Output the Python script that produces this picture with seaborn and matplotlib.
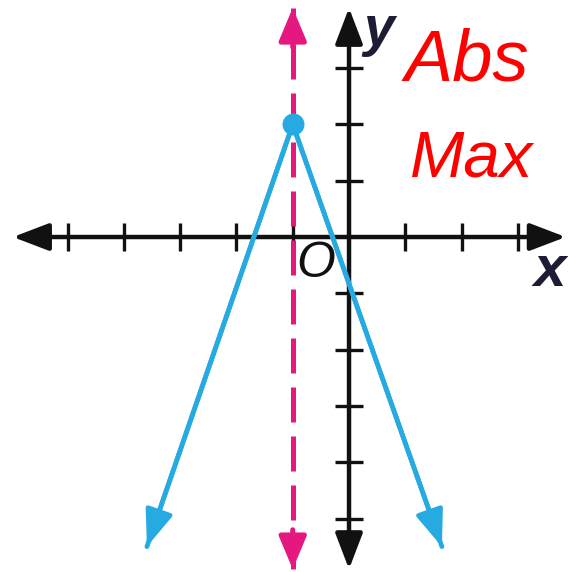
import matplotlib
matplotlib.use("Agg")
import matplotlib.pyplot as plt
import seaborn as sns
import pandas as pd

# Graph of y = a|x - h| + k with its axis of symmetry
vertex_x = [-1.0]
vertex_y = [2.0]
graph_x = [-3.59, -1.0, 1.65]
graph_y = [-5.50, 2.0, -5.50]
sym_x = [-1.0, -1.0]
sym_y = [-5.9, 4.07]

# Coordinate axes extents and tick marks
x_axis_ends = [-5.97, 3.85]
y_axis_ends = [-5.9, 4.07]
x_ticks = [-5, -4, -3, -2, -1, 1, 2, 3]
y_ticks = [-5, -4, -3, -2, -1, 1, 2, 3]

note_lines = ["Abs", "Max"]

BLUE = "#27aae1"
PINK = "#e5187f"
INK = "#111111"

sns.set_theme(style="white")
plt.rcParams["font.family"] = ["Liberation Sans", "DejaVu Sans"]

fig = plt.figure(figsize=(5.68, 5.72), dpi=100)
ax = fig.add_axes([0, 0, 1, 1])
ax.set_xlim(-6.2, 3.89)
ax.set_ylim(-5.95, 4.21)
ax.set_axis_off()

axis_arrow = dict(arrowstyle="<|-|>,head_length=1.1,head_width=0.42",
                  mutation_scale=20, lw=3.2, color=INK,
                  shrinkA=0, shrinkB=0)
ax.annotate("", xy=(x_axis_ends[1], 0), xytext=(x_axis_ends[0], 0),
            arrowprops=axis_arrow, zorder=2)
ax.annotate("", xy=(0, y_axis_ends[1]), xytext=(0, y_axis_ends[0]),
            arrowprops=axis_arrow, zorder=2)

tick_half = 0.25
ax.vlines(x_ticks, -tick_half, tick_half, colors=INK, lw=2.4, zorder=2)
ax.hlines(y_ticks, -tick_half, tick_half, colors=INK, lw=2.4, zorder=2)

# Axis of symmetry: dashed line with solid arrowheads
sym_df = pd.DataFrame({"x": sym_x, "y": sym_y})
sns.lineplot(data=sym_df, x="x", y="y", sort=False, estimator=None,
             color=PINK, lw=3.6, ax=ax, zorder=3,
             dashes=False, linestyle=(0, (7.0, 2.8)))
pink_head = dict(arrowstyle="-|>,head_length=1.0,head_width=0.42",
                 mutation_scale=20, lw=3.6, color=PINK,
                 shrinkA=0, shrinkB=0)
ax.annotate("", xy=(sym_x[1], sym_y[1]), xytext=(sym_x[1], sym_y[1] - 0.7),
            arrowprops=pink_head, zorder=3)
ax.annotate("", xy=(sym_x[0], sym_y[0]), xytext=(sym_x[0], sym_y[0] + 0.7),
            arrowprops=pink_head, zorder=3)

# The V-shaped graph with arrowheads at both ends
graph_df = pd.DataFrame({"x": graph_x, "y": graph_y})
sns.lineplot(data=graph_df, x="x", y="y", sort=False, estimator=None,
             color=BLUE, lw=3.4, ax=ax, zorder=4)
blue_head = dict(arrowstyle="-|>,head_length=1.1,head_width=0.42",
                 mutation_scale=20, lw=3.4, color=BLUE,
                 shrinkA=0, shrinkB=0)
for i in (0, 2):
    ax.annotate("", xy=(graph_x[i], graph_y[i]),
                xytext=(graph_x[1], graph_y[1]),
                arrowprops=blue_head, zorder=4)

sns.scatterplot(x=vertex_x, y=vertex_y, s=250, color=BLUE,
                edgecolor=BLUE, linewidth=0, ax=ax, zorder=5)

ax.set_xlabel("")
ax.set_ylabel("")

# Axis letters
ax.text(0.26, 4.13, "y", fontsize=40, fontstyle="italic", fontweight="bold",
        color="#1c1c34", ha="left", va="top", zorder=6)
ax.text(3.86, -0.6, "x", fontsize=42, fontstyle="italic", fontweight="bold",
        color="#1c1c34", ha="right", va="center", zorder=6)
ax.text(-0.59, -0.48, "O", fontsize=36, fontstyle="italic",
        color=INK, ha="center", va="center", zorder=6)

# Handwritten note
note_font = ["Liberation Sans Narrow", "Liberation Sans", "DejaVu Sans"]
ax.text(2.10, 3.11, note_lines[0], fontsize=52, fontstyle="italic",
        family=note_font, color="#ff0000", ha="center", va="center", zorder=6)
ax.text(2.17, 1.37, note_lines[1], fontsize=47, fontstyle="italic",
        family=note_font, color="#ff0000", ha="center", va="center", zorder=6)

fig.savefig("out.png", dpi=100)
